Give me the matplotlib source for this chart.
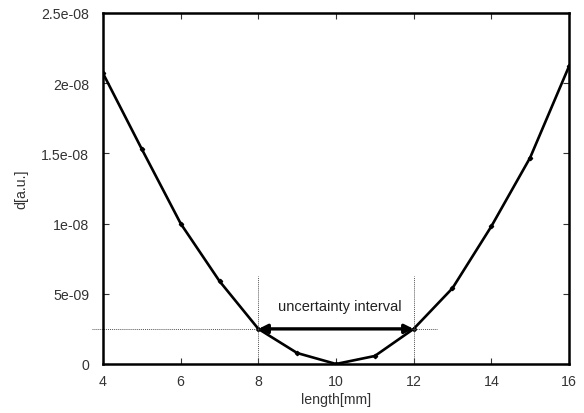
import matplotlib
matplotlib.use("Agg")
import matplotlib.pyplot as plt
import numpy as np

plt.rcParams['font.family'] = ['Liberation Sans', 'DejaVu Sans']

length_mm = [4, 5, 6, 7, 8, 9, 10, 11, 12, 13, 14, 15, 16]
d_au = [20.7e-9, 15.3e-9, 10.0e-9, 5.9e-9, 2.5e-9, 0.78e-9, 0.0,
        0.57e-9, 2.5e-9, 5.4e-9, 9.8e-9, 14.7e-9, 21.2e-9]
x_ticks = [4, 6, 8, 10, 12, 14, 16]
y_ticks = [0, 5e-9, 1e-8, 1.5e-8, 2e-8, 2.5e-8]
y_ticklabels = ['0', '5e-09', '1e-08', '1.5e-08', '2e-08', '2.5e-08']
interval = [8, 12]
threshold = 2.5e-9

fig = plt.figure(figsize=(5.84, 4.14), dpi=100)
ax = fig.add_axes([0.1764, 0.1184, 0.7979, 0.8478])

ax.plot(length_mm, d_au, color='black', lw=1.9, marker='D', ms=2.2)

ax.set_xlim(4, 16)
ax.set_ylim(0, 2.5e-8)
ax.set_xticks(x_ticks)
ax.set_yticks(y_ticks)
ax.set_yticklabels(y_ticklabels)
ax.tick_params(direction='in', top=True, right=True, length=4, width=0.8,
               labelsize=10.2, colors='#333333')
ax.tick_params(axis='y', pad=10)
ax.tick_params(axis='x', pad=7)
for s in ax.spines.values():
    s.set_linewidth(1.8)

# threshold line
ax.plot([3.72, 12.6], [threshold, threshold], color='#555555', lw=0.7,
        ls=(0, (1, 1)), clip_on=False)
for xv in interval:
    ax.plot([xv, xv], [0, 6.3e-9], color='#555555', lw=0.7, ls=(0, (1, 1)))

ax.annotate('', xy=(interval[0], threshold), xytext=(interval[1], threshold),
            arrowprops=dict(arrowstyle='<|-|>', color='black', lw=2.4,
                            mutation_scale=13, shrinkA=0, shrinkB=0))
ax.text(10.1, 4.1e-9, 'uncertainty interval', ha='center', va='center',
        fontsize=10.5, color='#222222')

ax.set_xlabel('length[mm]', fontsize=10.2, color='#333333', labelpad=3)
ax.set_ylabel('d[a.u.]', fontsize=10.2, color='#333333', labelpad=9)

fig.savefig('out.png', dpi=100)
